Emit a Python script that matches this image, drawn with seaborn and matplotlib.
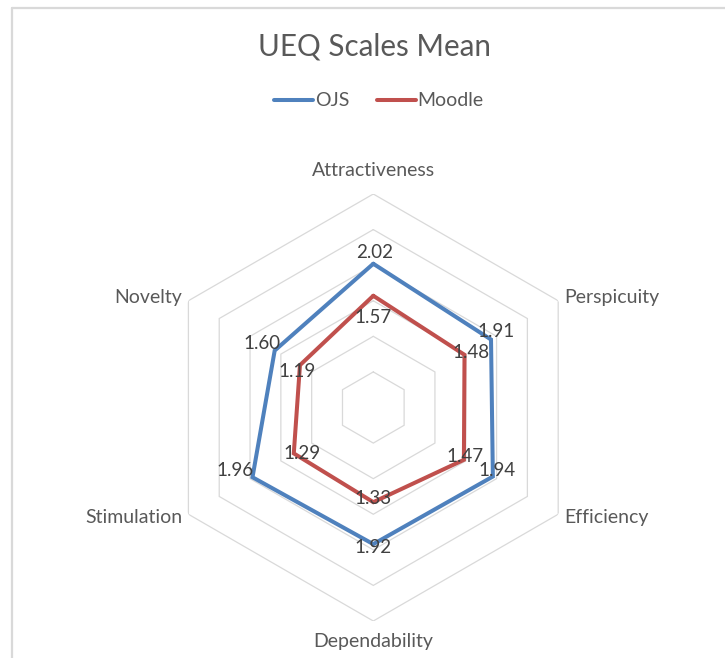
import numpy as np
import pandas as pd
import matplotlib
matplotlib.use("Agg")
import matplotlib.pyplot as plt
from matplotlib.lines import Line2D
import seaborn as sns

categories = ["Attractiveness", "Perspicuity", "Efficiency", "Dependability", "Stimulation", "Novelty"]
ojs = [2.02, 1.91, 1.94, 1.92, 1.96, 1.60]
moodle = [1.57, 1.48, 1.47, 1.33, 1.29, 1.19]
series_names = ["OJS", "Moodle"]
grid_levels = [0.5, 1.0, 1.5, 2.0, 2.5, 3.0]
title = "UEQ Scales Mean"

sns.set_theme(style="white")
plt.rcParams["font.family"] = ["Lato", "DejaVu Sans"]

W, H = 725, 658
fig = plt.figure(figsize=(W / 100, H / 100), dpi=100)
fig.patch.set_facecolor("white")

cx, cy, R = 373.3, 407.5, 213.5
ax = fig.add_axes([(cx - R) / W, (H - cy - R) / H, 2 * R / W, 2 * R / H], projection="polar")
ax.set_theta_zero_location("N")
ax.set_theta_direction(-1)
ax.set_ylim(0, 3)
ax.grid(False)
ax.set_xticks([])
ax.set_yticks([])
ax.spines["polar"].set_visible(False)
ax.set_facecolor("none")

n = len(categories)
theta = np.arange(n) * 2 * np.pi / n
theta_c = np.append(theta, theta[0])

for lvl in grid_levels:
    ax.plot(theta_c, [lvl] * (n + 1), color="#d9d9d9", lw=0.9, zorder=0)

rows = []
for name, vals in zip(series_names, [ojs, moodle]):
    vc = list(vals) + [vals[0]]
    for i, (t, v) in enumerate(zip(theta_c, vc)):
        rows.append({"series": name, "theta": t, "value": v, "order": i})
df = pd.DataFrame(rows)

colors = {"OJS": "#4F81BD", "Moodle": "#C0504D"}
sns.lineplot(data=df, x="theta", y="value", hue="series", sort=False, estimator=None,
             palette=colors, lw=2.9, ax=ax, legend=False, zorder=3)
for l in ax.lines:
    l.set_solid_joinstyle("miter")
ax.set_xlabel("")
ax.set_ylabel("")

txt_color = "#595959"
# data labels
off = {
    "OJS": [(1, -11), (5, -8), (4, -6), (0, 3), (-18, -7), (-13, -7)],
    "Moodle": [(0, 22), (6, -2), (1, -3), (0, -4), (8, 0), (-3, 6)],
}
for name, vals in zip(series_names, [ojs, moodle]):
    for t, v, (dx, dy) in zip(theta, vals, off[name]):
        ax.annotate(f"{v:.2f}", xy=(t, v), xytext=(dx, -dy), textcoords="offset pixels",
                    ha="center", va="center", fontsize=13.5, color="#404040", zorder=5)

# category labels
cat_pos = [(3.33, "center"), (3.1, "left"), (3.1, "left"), (3.29, "center"), (3.1, "right"), (3.1, "right")]
for t, c, (r, ha) in zip(theta, categories, cat_pos):
    ax.text(t, r, c, ha=ha, va="center", fontsize=14, color=txt_color, clip_on=False)

fig.text(375 / W, 1 - 46 / H, title, ha="center", va="center", fontsize=21.3, color=txt_color)

handles = [Line2D([0], [0], color=colors[s], lw=2.9) for s in series_names]
fig.legend(handles, series_names, loc="center", bbox_to_anchor=(379 / W, 1 - 101 / H), ncol=2,
           frameon=False, fontsize=14, handlelength=2.0, handletextpad=0.1, columnspacing=1.4,
           labelcolor=txt_color)

# chart area border (top and left visible)
fig.add_artist(Line2D([11.5 / W, 1], [1 - 8 / H, 1 - 8 / H], transform=fig.transFigure, color="#d9d9d9", lw=1.6))
fig.add_artist(Line2D([11.5 / W, 11.5 / W], [0, 1 - 8 / H], transform=fig.transFigure, color="#d9d9d9", lw=1.6))

fig.savefig("out.png", dpi=100)
